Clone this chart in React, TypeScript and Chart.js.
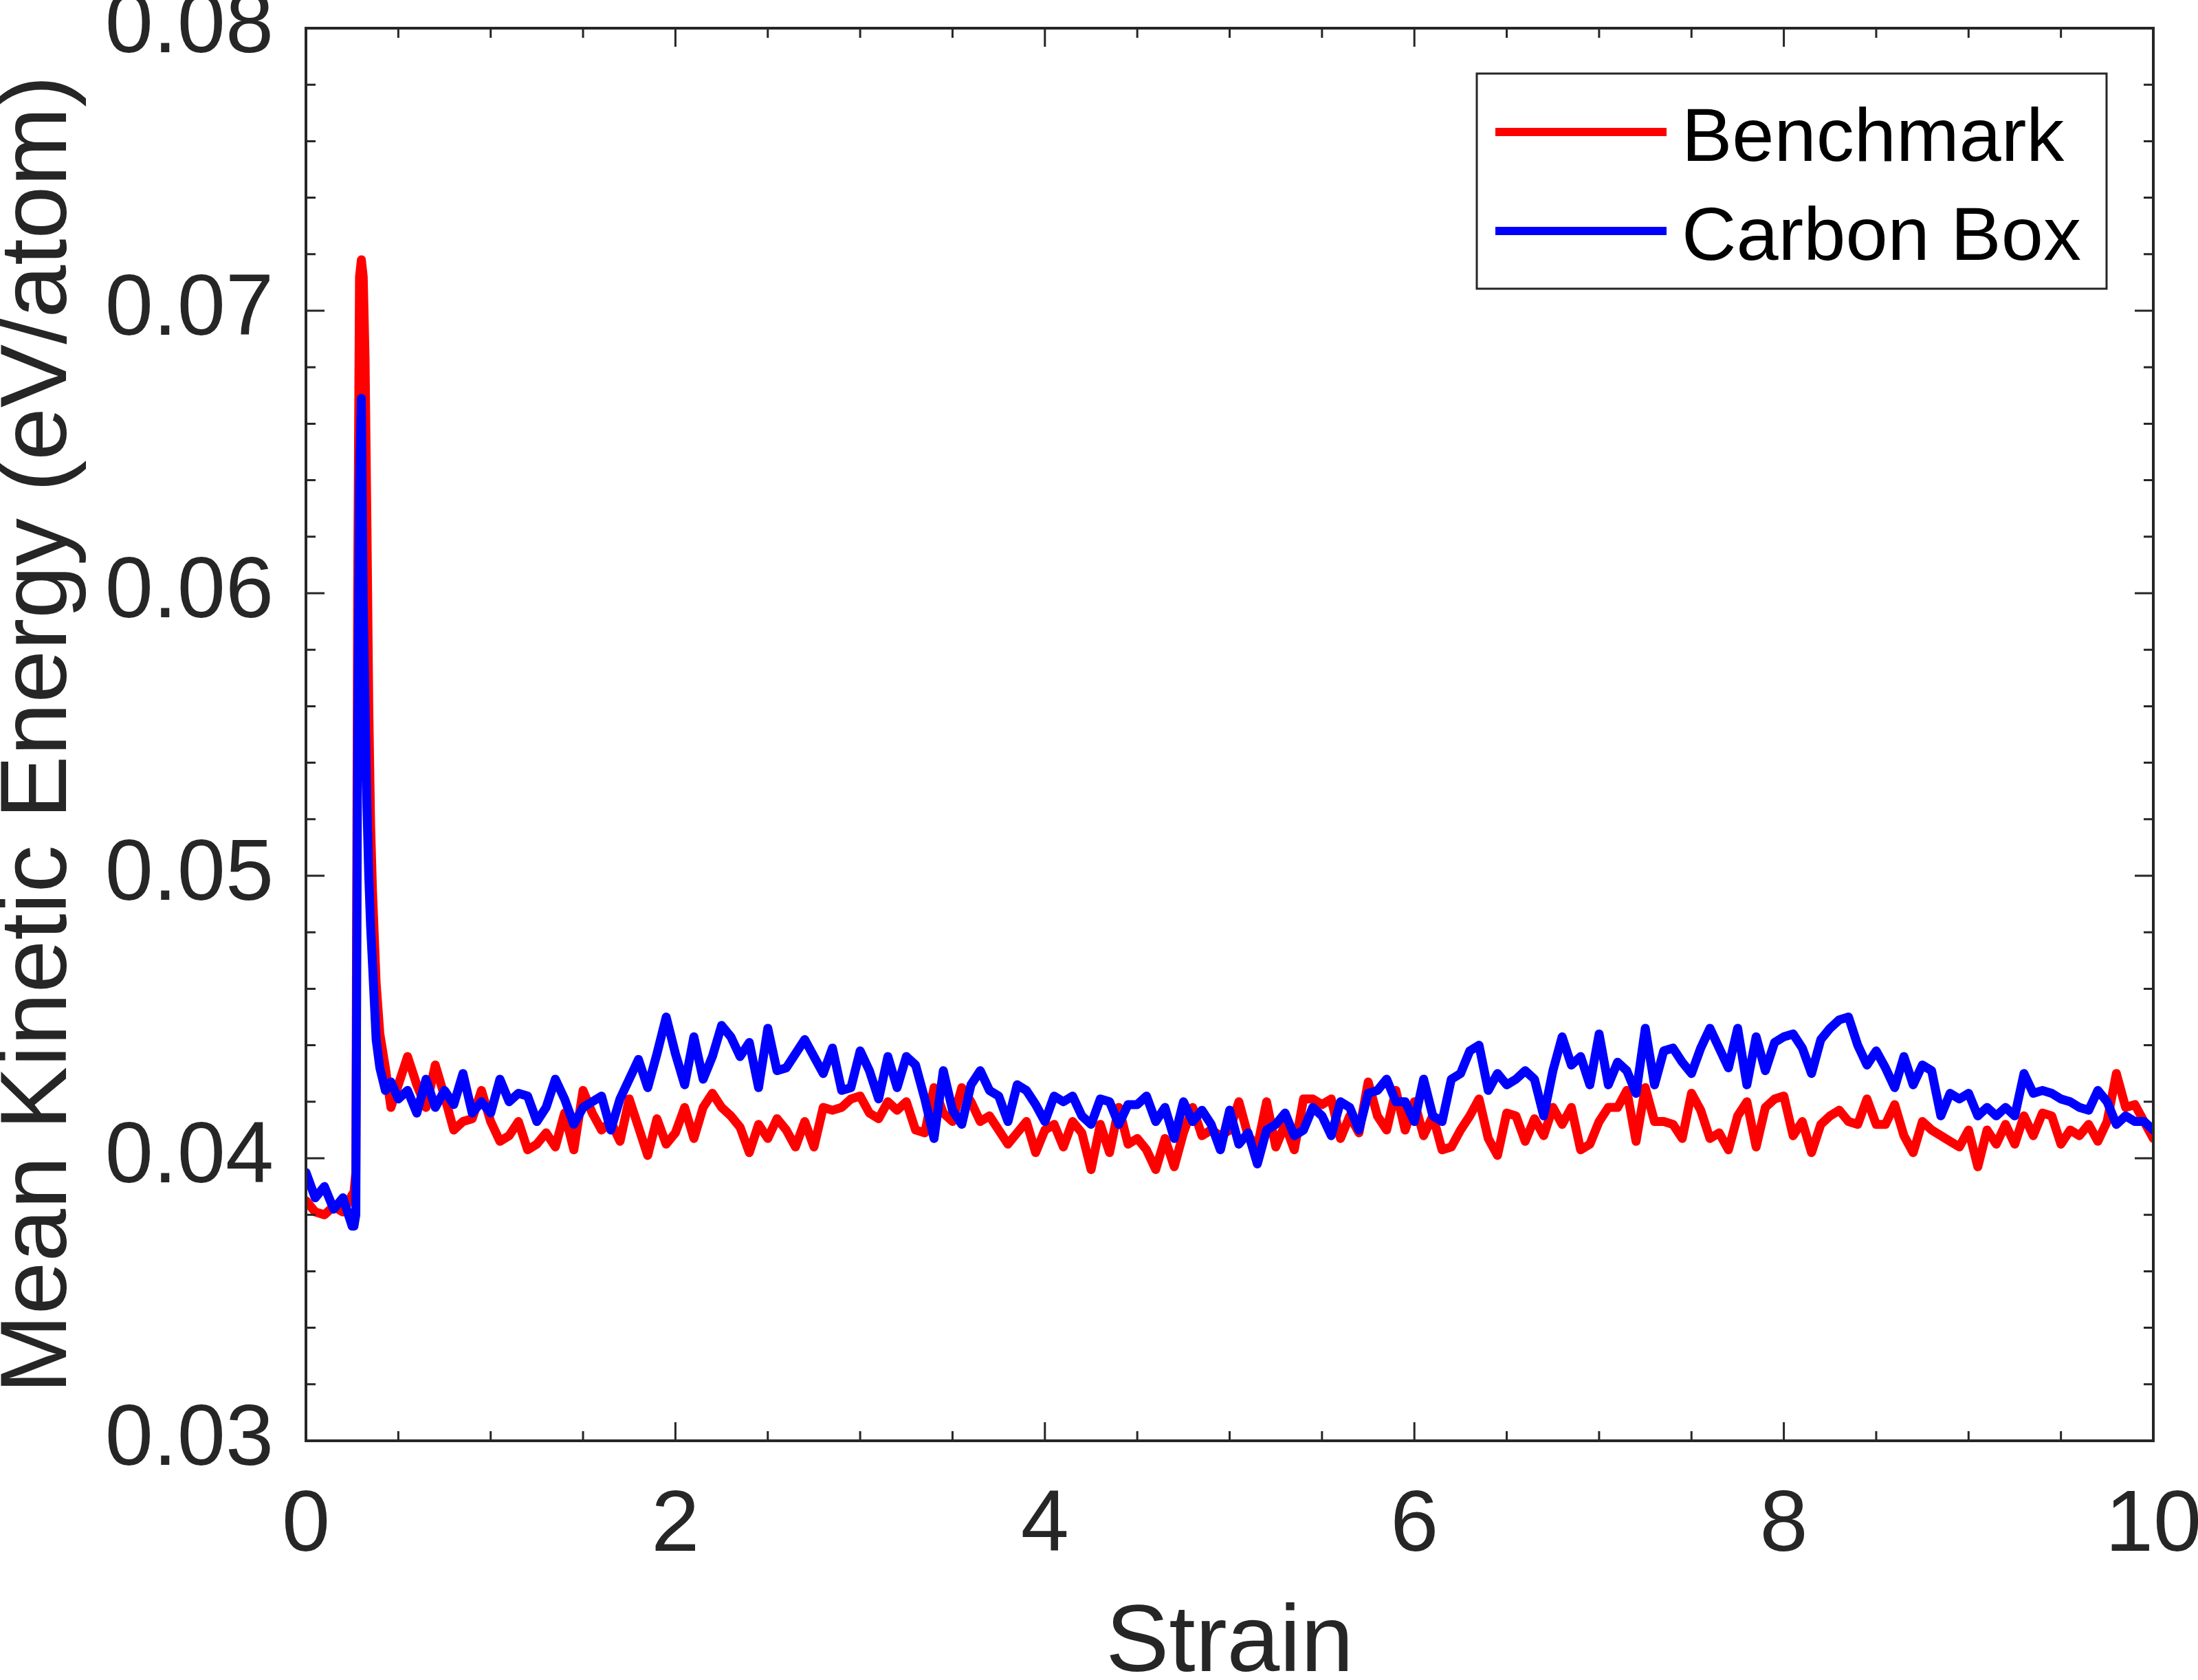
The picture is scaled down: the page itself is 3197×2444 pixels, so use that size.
import { useEffect, useRef } from "react";
import { Chart, registerables } from "chart.js";

Chart.register(...registerables);

// strain grid: finer steps around the spike, then every 0.05
const strainStart = [0, 0.05, 0.1, 0.15, 0.2, 0.25, 0.26, 0.27, 0.28, 0.29, 0.3, 0.31, 0.32, 0.33, 0.34, 0.35, 0.36, 0.38, 0.4, 0.43, 0.46];
const strainBody = Array.from({ length: 191 }, (_, i) => Math.round((0.5 + i * 0.05) * 100) / 100);
const strain = [...strainStart, ...strainBody];

const benchmark = [
  0.0385, 0.0381, 0.038, 0.0383, 0.0381, 0.0387, 0.0388, 0.0395, 0.06, 0.0712, 0.0718, 0.0712, 0.0683, 0.0625, 0.056, 0.0518, 0.0495, 0.0462, 0.0444, 0.0432, 0.0418,
  0.0426, 0.0436, 0.0426, 0.0418, 0.0433, 0.0422, 0.041, 0.0413, 0.0414, 0.0424,
  0.0413, 0.0406, 0.0408, 0.0413, 0.0403, 0.0405, 0.0409, 0.0404, 0.0416, 0.0403, 0.0424, 0.0416, 0.041, 0.0413, 0.0406, 0.0421, 0.0411, 0.0401, 0.0414, 0.0405,
  0.0409, 0.0418, 0.0407, 0.0418, 0.0423, 0.0418, 0.0415, 0.0411, 0.0402, 0.0412, 0.0407, 0.0414, 0.041, 0.0404, 0.0413, 0.0404, 0.0418, 0.0417, 0.0418, 0.0421,
  0.0422, 0.0416, 0.0414, 0.042, 0.0417, 0.042, 0.041, 0.0409, 0.0425, 0.0416, 0.0413, 0.0425, 0.042, 0.0413, 0.0415, 0.041, 0.0405, 0.0409, 0.0413, 0.0402,
  0.041, 0.0412, 0.0404, 0.0413, 0.0409, 0.0396, 0.0412, 0.0402, 0.0418, 0.0405, 0.0407, 0.0403, 0.0396, 0.0407, 0.0397, 0.0409, 0.0418, 0.0408, 0.041, 0.0408,
  0.041, 0.042, 0.0408, 0.0404, 0.042, 0.0404, 0.0412, 0.0403, 0.0421, 0.0421, 0.0419, 0.0421, 0.0407, 0.0415, 0.0409, 0.0427, 0.0415, 0.041, 0.0424, 0.041,
  0.042, 0.0408, 0.0415, 0.0403, 0.0404, 0.041, 0.0415, 0.0421, 0.0407, 0.0401, 0.0416, 0.0415, 0.0406, 0.0414, 0.0408, 0.0418, 0.0412, 0.0418, 0.0403, 0.0405,
  0.0413, 0.0418, 0.0418, 0.0424, 0.0406, 0.0425, 0.0413, 0.0413, 0.0412, 0.0407, 0.0423, 0.0417, 0.0407, 0.0409, 0.0403, 0.0415, 0.042, 0.0404, 0.0418, 0.0421,
  0.0422, 0.0408, 0.0413, 0.0402, 0.0412, 0.0415, 0.0417, 0.0413, 0.0412, 0.0421, 0.0412, 0.0412, 0.0419, 0.0408, 0.0402, 0.0413, 0.041, 0.0408, 0.0406, 0.0404,
  0.041, 0.0397, 0.041, 0.0405, 0.0412, 0.0405, 0.0415, 0.0408, 0.0416, 0.0415, 0.0405, 0.041, 0.0408, 0.0412, 0.0406, 0.0413, 0.043, 0.0418, 0.0419, 0.0413,
  0.0407,
];

const carbonBox = [
  0.0395, 0.0386, 0.039, 0.0382, 0.0386, 0.0376, 0.0376, 0.038, 0.055, 0.064, 0.0669, 0.0597, 0.056, 0.0525, 0.05, 0.0482, 0.0469, 0.0442, 0.0432, 0.0424, 0.0427,
  0.0421, 0.0424, 0.0416, 0.0428, 0.0418, 0.0424, 0.0419, 0.043, 0.0416, 0.042,
  0.0416, 0.0428, 0.042, 0.0423, 0.0422, 0.0413, 0.0418, 0.0428, 0.0421, 0.0412, 0.0418, 0.042, 0.0422, 0.041, 0.0421, 0.0428, 0.0435, 0.0425, 0.0437, 0.045,
  0.0437, 0.0426, 0.0443, 0.0428, 0.0436, 0.0447, 0.0443, 0.0436, 0.0441, 0.0425, 0.0446, 0.0431, 0.0432, 0.0437, 0.0442, 0.0436, 0.043, 0.0439, 0.0424, 0.0425,
  0.0438, 0.0431, 0.0421, 0.0436, 0.0425, 0.0436, 0.0433, 0.0421, 0.0407, 0.0431, 0.0417, 0.0412, 0.0426, 0.0431, 0.0424, 0.0422, 0.0413, 0.0426, 0.0424, 0.0419,
  0.0413, 0.0422, 0.042, 0.0422, 0.0415, 0.0412, 0.0421, 0.042, 0.0412, 0.0419, 0.0419, 0.0422, 0.0413, 0.0418, 0.0407, 0.042, 0.0413, 0.0417, 0.0412, 0.0403,
  0.0417, 0.0405, 0.0409, 0.0398, 0.041, 0.0412, 0.0416, 0.0408, 0.041, 0.0418, 0.0415, 0.0408, 0.042, 0.0418, 0.041, 0.0423, 0.0424, 0.0428, 0.042, 0.042,
  0.0413, 0.0428, 0.0415, 0.0413, 0.0428, 0.043, 0.0438, 0.044, 0.0424, 0.043, 0.0426, 0.0428, 0.0431, 0.0428, 0.0415, 0.0431, 0.0443, 0.0433, 0.0436, 0.0426,
  0.0444, 0.0426, 0.0434, 0.0431, 0.0423, 0.0446, 0.0426, 0.0438, 0.0439, 0.0434, 0.043, 0.0439, 0.0446, 0.0439, 0.0432, 0.0446, 0.0426, 0.0443, 0.0431, 0.0441,
  0.0443, 0.0444, 0.0439, 0.043, 0.0442, 0.0446, 0.0449, 0.045, 0.044, 0.0433, 0.0438, 0.0432, 0.0425, 0.0436, 0.0426, 0.0433, 0.0431, 0.0415, 0.0423, 0.0421,
  0.0423, 0.0415, 0.0418, 0.0415, 0.0418, 0.0415, 0.043, 0.0423, 0.0424, 0.0423, 0.0421, 0.042, 0.0418, 0.0417, 0.0424, 0.042, 0.0412, 0.0415, 0.0413, 0.0413,
  0.041,
];

const xTicks = [0, 2, 4, 6, 8, 10];
const yTicks = [0.03, 0.04, 0.05, 0.06, 0.07, 0.08];
const xMinorStep = 0.5;
const yMinorStep = 0.002;

const FONT = "'Liberation Sans', Arial, Helvetica, sans-serif";
const AXIS_COLOR = "#262626";

// MATLAB-like box with inward ticks on all four sides
const framePlugin = {
  id: "frame",
  afterDatasetsDraw(chart: any) {
    const { ctx, chartArea: a, scales } = chart;
    const xs = scales.x;
    const ys = scales.y;
    ctx.save();
    ctx.strokeStyle = AXIS_COLOR;
    ctx.lineWidth = 3;
    ctx.beginPath();
    const nx = Math.round((xs.max - xs.min) / xMinorStep);
    for (let i = 0; i <= nx; i++) {
      const v = xs.min + i * xMinorStep;
      const px = xs.getPixelForValue(v);
      const len = i % 4 === 0 ? 27 : 14;
      ctx.moveTo(px, a.bottom);
      ctx.lineTo(px, a.bottom - len);
      ctx.moveTo(px, a.top);
      ctx.lineTo(px, a.top + len);
    }
    const ny = Math.round((ys.max - ys.min) / yMinorStep);
    for (let i = 0; i <= ny; i++) {
      const v = ys.min + i * yMinorStep;
      const py = ys.getPixelForValue(v);
      const len = i % 5 === 0 ? 27 : 14;
      ctx.moveTo(a.left, py);
      ctx.lineTo(a.left + len, py);
      ctx.moveTo(a.right, py);
      ctx.lineTo(a.right - len, py);
    }
    ctx.stroke();
    ctx.lineWidth = 4;
    ctx.strokeRect(a.left, a.top, a.right - a.left, a.bottom - a.top);
    ctx.restore();
  },
};

const legendPlugin = {
  id: "boxLegend",
  afterDraw(chart: any) {
    const { ctx, chartArea: a } = chart;
    const w = 916;
    const h = 313;
    const left = a.right - 68 - w;
    const top = a.top + 66;
    ctx.save();
    ctx.fillStyle = "#ffffff";
    ctx.fillRect(left, top, w, h);
    ctx.strokeStyle = AXIS_COLOR;
    ctx.lineWidth = 3;
    ctx.strokeRect(left, top, w, h);
    ctx.font = `110px ${FONT}`;
    ctx.textBaseline = "middle";
    ctx.textAlign = "left";
    const rows = [85, 229];
    chart.data.datasets.forEach((ds: any, i: number) => {
      const y = top + rows[i];
      ctx.strokeStyle = ds.borderColor;
      ctx.lineWidth = 12;
      ctx.beginPath();
      ctx.moveTo(left + 27, y);
      ctx.lineTo(left + 276, y);
      ctx.stroke();
      ctx.fillStyle = "#000000";
      ctx.fillText(ds.label, left + 298, y + 12);
    });
    ctx.restore();
  },
};

export default function App() {
  const chartRef = useRef<HTMLCanvasElement>(null);

  useEffect(() => {
    if (!chartRef.current) return;
    const ctx = chartRef.current.getContext("2d");
    if (!ctx) return;

    const myChart = new Chart(ctx, {
      type: "line",
      data: {
        datasets: [
          {
            label: "Benchmark",
            data: strain.map((x, i) => ({ x, y: benchmark[i] })),
            borderColor: "#ff0000",
            backgroundColor: "#ff0000",
            borderWidth: 13,
            order: 1,
          },
          {
            label: "Carbon Box",
            data: strain.map((x, i) => ({ x, y: carbonBox[i] })),
            borderColor: "#0000ff",
            backgroundColor: "#0000ff",
            borderWidth: 13,
            order: 0,
          },
        ],
      },
      options: {
        animation: false,
        responsive: true,
        maintainAspectRatio: false,
        layout: { padding: { left: 0, right: 65, top: 41, bottom: 0 } },
        elements: {
          point: { radius: 0, hoverRadius: 0 },
          line: { tension: 0, borderJoinStyle: "round", borderCapStyle: "round", fill: false },
        },
        plugins: {
          legend: { display: false },
          tooltip: { enabled: false },
        },
        scales: {
          x: {
            type: "linear",
            min: 0,
            max: 10,
            afterBuildTicks: (s: any) => {
              s.ticks = xTicks.map((value) => ({ value }));
            },
            afterFit: (s: any) => {
              s.height = 348;
              s.paddingLeft = 0;
              s.paddingRight = 0;
            },
            grid: { display: false, drawTicks: false },
            border: { display: false },
            ticks: {
              padding: 50,
              color: AXIS_COLOR,
              font: { family: FONT, size: 126 },
              maxRotation: 0,
              autoSkip: false,
              callback: (v: any) => String(v),
            },
            title: {
              display: true,
              text: "Strain",
              color: AXIS_COLOR,
              padding: 0,
              font: { family: FONT, size: 138, lineHeight: 0.74 },
            },
          },
          y: {
            type: "linear",
            min: 0.03,
            max: 0.08,
            afterBuildTicks: (s: any) => {
              s.ticks = yTicks.map((value) => ({ value }));
            },
            afterFit: (s: any) => {
              s.width = 445;
              s.paddingTop = 0;
              s.paddingBottom = 0;
            },
            grid: { display: false, drawTicks: false },
            border: { display: false },
            ticks: {
              padding: 47,
              color: AXIS_COLOR,
              font: { family: FONT, size: 126 },
              autoSkip: false,
              callback: (v: any) => Number(v).toFixed(2),
            },
            title: {
              display: true,
              text: "Mean Kinetic Energy (eV/atom)",
              color: AXIS_COLOR,
              padding: 0,
              font: { family: FONT, size: 138, lineHeight: 0.84 },
            },
          },
        },
      },
      plugins: [framePlugin, legendPlugin],
    });

    return () => {
      myChart.destroy();
    };
  }, []);

  return (
    <div style={{ position: "absolute", left: 0, top: 0, width: "3197px", height: "2444px", background: "#ffffff" }}>
      <canvas ref={chartRef} />
    </div>
  );
}
